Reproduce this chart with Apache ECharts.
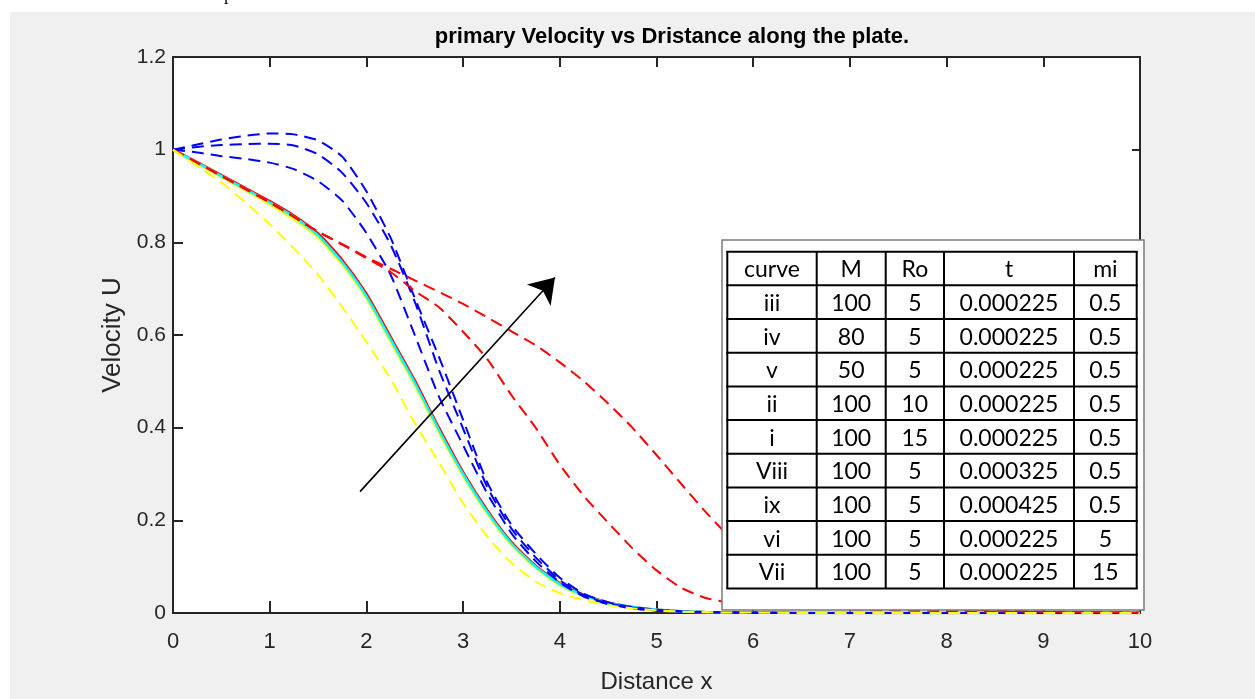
<!DOCTYPE html>
<html>
<head>
<meta charset="utf-8">
<script src="https://cdn.jsdelivr.net/npm/echarts@6/dist/echarts.min.js"></script>
<style>
html,body{margin:0;padding:0;background:#f0f0f0;}
#c{width:1255px;height:699px;}
</style>
</head>
<body>
<div id="c"></div>
<script>
// ---------------- data ----------------
const xs = [0,0.25,0.5,0.75,1,1.25,1.5,1.75,2,2.25,2.5,2.75,3,3.25,3.5,3.75,4,4.25,4.5,4.75,5,5.25,5.5,5.75,6,6.5,7,7.5,8,8.5,9,9.5,10];

const redSolid    = [1.000,0.973,0.945,0.917,0.889,0.858,0.819,0.762,0.689,0.596,0.502,0.400,0.304,0.222,0.153,0.102,0.064,0.039,0.023,0.013,0.007,0.004,0.002,0.001,0.001,0,0,0,0,0,0,0,0];
const yellowSolid = [1.000,0.970,0.941,0.912,0.882,0.850,0.810,0.752,0.679,0.586,0.492,0.390,0.296,0.214,0.147,0.098,0.060,0.036,0.021,0.012,0.006,0.003,0.002,0.001,0.001,0,0,0,0,0,0,0,0];
const cyanSolid   = [1.000,0.972,0.943,0.915,0.886,0.855,0.815,0.757,0.684,0.591,0.497,0.395,0.300,0.218,0.150,0.100,0.062,0.038,0.022,0.013,0.007,0.004,0.002,0.001,0.001,0,0,0,0,0,0,0,0];
const blueTop     = [1.000,1.011,1.022,1.030,1.035,1.033,1.020,0.985,0.910,0.810,0.680,0.553,0.417,0.282,0.190,0.128,0.076,0.041,0.023,0.013,0.007,0.004,0.002,0.001,0.001,0,0,0,0,0,0,0,0];
const blueMid     = [1.000,1.006,1.010,1.012,1.013,1.009,0.990,0.950,0.885,0.795,0.672,0.525,0.398,0.272,0.182,0.120,0.071,0.038,0.021,0.012,0.006,0.003,0.002,0.001,0.001,0,0,0,0,0,0,0,0];
const blueLow     = [1.000,0.994,0.986,0.980,0.972,0.958,0.932,0.890,0.820,0.730,0.600,0.467,0.362,0.258,0.172,0.112,0.066,0.035,0.019,0.010,0.005,0.003,0.001,0.001,0,0,0,0,0,0,0,0,0];
const redWide     = [1.000,0.972,0.943,0.915,0.886,0.855,0.823,0.796,0.768,0.743,0.718,0.693,0.667,0.638,0.608,0.578,0.541,0.500,0.452,0.400,0.341,0.280,0.220,0.165,0.120,0.065,0.035,0.018,0.009,0.005,0.003,0.002,0.001];
const redMid      = [1.000,0.972,0.943,0.915,0.886,0.855,0.823,0.795,0.766,0.736,0.695,0.660,0.607,0.548,0.470,0.400,0.320,0.252,0.195,0.140,0.092,0.055,0.033,0.022,0.016,0.011,0.008,0.006,0.004,0.003,0.002,0.001,0.001];
const yellowDash  = [1.000,0.965,0.929,0.886,0.839,0.787,0.730,0.660,0.585,0.505,0.410,0.325,0.237,0.165,0.108,0.068,0.043,0.028,0.017,0.010,0.006,0.003,0.002,0.001,0.001,0,0,0,0,0,0,0,0];

const arrowPts = [[1.934, 0.262], [3.95, 0.724]];

const xTickLabels = ['0','1','2','3','4','5','6','7','8','9','10'];
const yTickLabels = ['0','0.2','0.4','0.6','0.8','1','1.2'];

const titleText = 'primary Velocity vs Dristance along the plate.';
const xName = 'Distance x';
const yName = 'Velocity U';

const tableHeader = ['curve','M','Ro','t','mi'];
const tableRows = [
  ['iii','100','5','0.000225','0.5'],
  ['iv','80','5','0.000225','0.5'],
  ['v','50','5','0.000225','0.5'],
  ['ii','100','10','0.000225','0.5'],
  ['i','100','15','0.000225','0.5'],
  ['Viii','100','5','0.000325','0.5'],
  ['ix','100','5','0.000425','0.5'],
  ['vi','100','5','0.000225','5'],
  ['Vii','100','5','0.000225','15']
];

// ---------------- chart ----------------
const chart = echarts.init(document.getElementById('c'), null, {renderer:'canvas'});
const AX = '#262626';
const DASH = [12, 7];
const FONT = '"Liberation Sans Narrow","Liberation Sans",Arial,sans-serif';

function lineSeries(name, vals, color, dashed, width, z) {
  return {
    type:'line', name, xAxisIndex:0, yAxisIndex:0,
    data: xs.map((x,i)=>[x, vals[i]]),
    showSymbol:false, symbol:'none', smooth:0.2, silent:true, animation:false, z,
    lineStyle:{color, width, type: dashed ? DASH : 'solid'}
  };
}

// table graphic
const colEdges = [727.3, 816.7, 885.7, 944, 1074, 1136.7];
const rowTop = 251.7, rowH = 33.67;
const allRows = [tableHeader].concat(tableRows);
const g = [];
g.push({type:'rect', z:100, shape:{x:0,y:0,width:10,height:699}, style:{fill:'#fff'}});
g.push({type:'rect', z:100, shape:{x:0,y:0,width:1255,height:12}, style:{fill:'#fff'}});
g.push({type:'text', z:101, x:224, y:-14, style:{text:'p', font:'18px "Liberation Serif"', fill:'#000', align:'left', verticalAlign:'top', textAlign:'left', textVerticalAlign:'top'}});
g.push({type:'rect', z:100, shape:{x:722, y:240, width:422, height:370}, style:{fill:'#fff', stroke:'#7a7a7a', lineWidth:1.5}});
const tableBottom = rowTop + rowH*allRows.length;
colEdges.forEach(cx => g.push({type:'line', z:101, shape:{x1:cx, y1:rowTop, x2:cx, y2:tableBottom}, style:{stroke:'#000', lineWidth:2}}));
for (let r = 0; r <= allRows.length; r++) {
  const y = rowTop + r*rowH;
  g.push({type:'line', z:101, shape:{x1:colEdges[0]-1, y1:y, x2:colEdges[colEdges.length-1]+1, y2:y}, style:{stroke:'#000', lineWidth:2}});
}
allRows.forEach((row, r) => {
  row.forEach((txt, c) => {
    const cx = (colEdges[c] + colEdges[c+1]) / 2;
    const cy = rowTop + r*rowH + rowH/2 + 1.5;
    g.push({type:'text', z:102, x:cx, y:cy, style:{text:txt, font:'23px Lato', fill:'#000', align:'center', verticalAlign:'middle', textAlign:'center', textVerticalAlign:'middle'}});
  });
});

const option = {
  backgroundColor:'#f0f0f0',
  animation:false,
  title:{
    text:titleText, left:667, top:21, textAlign:'center',
    textStyle:{fontFamily:FONT, fontWeight:'bold', fontSize:22, color:'#000'}
  },
  grid:{left:173, right:115, top:57, bottom:84, show:true, backgroundColor:'#fff', borderWidth:0},
  xAxis:[
    {type:'value', min:0, max:10, interval:1, position:'bottom',
     axisLine:{show:true, onZero:false, lineStyle:{color:AX, width:2}},
     axisTick:{show:true, inside:true, length:12, lineStyle:{color:AX, width:2}},
     axisLabel:{margin:18, fontFamily:FONT, fontSize:22, color:AX,
       formatter:(v,i)=>xTickLabels[i]},
     splitLine:{show:false},
     name:xName, nameLocation:'middle', nameGap:57,
     nameTextStyle:{fontFamily:FONT, fontSize:24, color:AX}},
    {type:'value', min:0, max:10, interval:1, position:'top',
     axisLine:{show:true, onZero:false, lineStyle:{color:AX, width:2}},
     axisTick:{show:true, inside:true, length:10, lineStyle:{color:AX, width:2}},
     axisLabel:{show:false}, splitLine:{show:false}}
  ],
  yAxis:[
    {type:'value', min:0, max:1.2, interval:0.2, position:'left',
     axisLine:{show:true, onZero:false, lineStyle:{color:AX, width:2}},
     axisTick:{show:true, inside:true, length:10, lineStyle:{color:AX, width:2}},
     axisLabel:{margin:7, fontFamily:FONT, fontSize:21, color:AX,
       formatter:(v,i)=>yTickLabels[i]},
     splitLine:{show:false},
     name:yName, nameLocation:'middle', nameGap:44,
     nameTextStyle:{fontFamily:'"Liberation Sans",Arial,sans-serif', fontSize:26, color:AX}},
    {type:'value', min:0, max:1.2, interval:0.2, position:'right',
     axisLine:{show:true, onZero:false, lineStyle:{color:AX, width:2}},
     axisTick:{show:true, inside:true, length:8, lineStyle:{color:AX, width:2}},
     axisLabel:{show:false}, splitLine:{show:false}}
  ],
  series:[
    lineSeries('iii-red', redSolid, '#ff0000', false, 2.5, 2),
    lineSeries('ii-yellow', yellowSolid, '#ffff00', false, 2.5, 3),
    lineSeries('i-cyan', cyanSolid, '#00ffff', false, 2.5, 4),
    lineSeries('v-blue', blueTop, '#0000ff', true, 2, 5),
    lineSeries('iv-blue', blueMid, '#0000ff', true, 2, 5),
    lineSeries('iii-blue', blueLow, '#0000ff', true, 2, 5),
    lineSeries('ix-red', redWide, '#ff0000', true, 2, 6),
    lineSeries('viii-red', redMid, '#ff0000', true, 2, 6),
    lineSeries('vii-yellow', yellowDash, '#ffff00', true, 2, 7),
    {type:'lines', coordinateSystem:'cartesian2d', xAxisIndex:0, yAxisIndex:0, silent:true, animation:false, z:20,
     data:[{coords: arrowPts}],
     lineStyle:{color:'#000', width:1.6, curveness:0, opacity:1},
     symbol:['none','arrow'], symbolSize:[22,24]}
  ],
  graphic: g
};
chart.setOption(option);
</script>
</body>
</html>
